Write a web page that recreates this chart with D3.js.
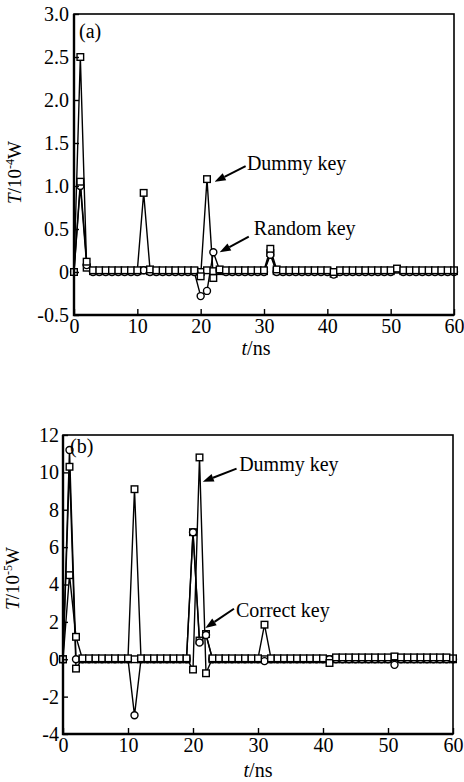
<!DOCTYPE html>
<html>
<head>
<meta charset="utf-8">
<script src="https://cdn.jsdelivr.net/npm/d3@7"></script>
<style>
  body { margin: 0; background: #fff; }
  svg { display: block; font-family: "Liberation Serif", "Times New Roman", serif; }
</style>
</head>
<body>
<svg id="drawing_region"></svg>
<script>
// sample times, one per ns
const timeNs = d3.range(0, 61);

// panel (a): T in 10^-4 W
const dummyKeyA = [0, 1.05, 0.12, 0.02, 0.02, 0.02, 0.02, 0.02, 0.02, 0.02, 0.02,
    0.92, 0.03, 0.02, 0.02, 0.02, 0.02, 0.02, 0.02, 0.02,
    -0.05, 1.08, -0.07, 0.03, 0.02, 0.02, 0.02, 0.02, 0.02, 0.02, 0.02,
    0.27, 0.03, 0.02, 0.02, 0.02, 0.02, 0.02, 0.02, 0.02, 0.02,
    0.0, 0.02, 0.02, 0.02, 0.02, 0.02, 0.02, 0.02, 0.02, 0.02,
    0.04, 0.02, 0.02, 0.02, 0.02, 0.02, 0.02, 0.02, 0.02, 0.02];
const otherKeyA = [0, 2.5, 0.05, 0.01, 0.01, 0.01, 0.01, 0.01, 0.01, 0.01, 0.01,
    0.02, 0.01, 0.01, 0.01, 0.01, 0.01, 0.01, 0.01, 0.01,
    0.0, 0.02, 0.01, 0.01, 0.01, 0.01, 0.01, 0.01, 0.01, 0.01, 0.01,
    0.22, 0.01, 0.01, 0.01, 0.01, 0.01, 0.01, 0.01, 0.01, 0.01,
    -0.02, 0.01, 0.01, 0.01, 0.01, 0.01, 0.01, 0.01, 0.01, 0.01,
    0.03, 0.01, 0.01, 0.01, 0.01, 0.01, 0.01, 0.01, 0.01, 0.01];
const randomKeyA = [0, 1.0, 0.08, 0, 0, 0, 0, 0, 0, 0, 0,
    0.02, 0, 0, 0, 0, 0, 0, 0, 0,
    -0.28, -0.22, 0.23, 0.02, 0, 0, 0, 0, 0, 0, 0,
    0.2, 0, 0, 0, 0, 0, 0, 0, 0, 0,
    -0.03, 0, 0, 0, 0, 0, 0, 0, 0, 0,
    0.03, 0, 0, 0, 0, 0, 0, 0, 0, 0];

// panel (b): T in 10^-5 W
const dummyKeyB = [0, 10.3, -0.5, 0.05, 0.05, 0.05, 0.05, 0.05, 0.05, 0.05, 0.05,
    9.1, 0.05, 0.05, 0.05, 0.05, 0.05, 0.05, 0.05, 0.05,
    -0.55, 10.8, -0.75, 0.05, 0.05, 0.05, 0.05, 0.05, 0.05, 0.05, 0.05,
    1.85, 0.05, 0.05, 0.05, 0.05, 0.05, 0.05, 0.05, 0.05, 0.05,
    -0.2, 0.1, 0.1, 0.1, 0.1, 0.1, 0.1, 0.1, 0.1, 0.1,
    0.15, 0.1, 0.1, 0.1, 0.1, 0.1, 0.1, 0.1, 0.1, 0.05];
const otherKeyB = [0, 4.5, 1.2, 0, 0, 0, 0, 0, 0, 0, 0,
    0, 0, 0, 0, 0, 0, 0, 0, 0,
    6.8, 1.0, 1.35, 0, 0, 0, 0, 0, 0, 0, 0,
    0, 0, 0, 0, 0, 0, 0, 0, 0, 0,
    0, 0, 0, 0, 0, 0, 0, 0, 0, 0,
    0.1, 0, 0, 0, 0, 0, 0, 0, 0, 0];
const correctKeyB = [0, 11.2, 0, 0, 0, 0, 0, 0, 0, 0, 0,
    -3.0, 0, 0, 0, 0, 0, 0, 0, 0,
    6.8, 0.9, 1.3, 0, 0, 0, 0, 0, 0, 0, 0,
    -0.1, 0, 0, 0, 0, 0, 0, 0, 0, 0,
    0, 0, 0, 0, 0, 0, 0, 0, 0, 0,
    -0.3, 0, 0, 0, 0, 0, 0, 0, 0, 0];

// tick labels
const xTicks = [0, 10, 20, 30, 40, 50, 60];
const yTicksA = [-0.5, 0, 0.5, 1.0, 1.5, 2.0, 2.5, 3.0];
const yTickLabelsA = ["-0.5", "0", "0.5", "1.0", "1.5", "2.0", "2.5", "3.0"];
const yTicksB = [-4, -2, 0, 2, 4, 6, 8, 10, 12];
const yTickLabelsB = ["-4", "-2", "0", "2", "4", "6", "8", "10", "12"];

class KeyPanel {
    constructor(config) {
        this.config = config;
        this.init();
    }

    init() {
        let self = this;
        let c = self.config;

        self.chart = d3.select('#drawing_region').append('g')
            .attr('transform', `translate(${c.left}, ${c.top})`);

        self.inner_width = c.width;
        self.inner_height = c.height;

        self.xscale = d3.scaleLinear()
            .domain([0, 60])
            .range([0, self.inner_width]);

        self.yscale = d3.scaleLinear()
            .domain(c.ydomain)
            .range([self.inner_height, 0]);

        self.xaxis = d3.axisBottom(self.xscale)
            .tickValues(xTicks)
            .tickFormat(d3.format('d'))
            .tickSize(-6)
            .tickPadding(c.xpad);

        self.yaxis = d3.axisLeft(self.yscale)
            .tickValues(c.yticks)
            .tickFormat((d, i) => c.ylabels[i])
            .tickSize(-5)
            .tickPadding(c.ypad);
    }

    render() {
        let self = this;
        let c = self.config;

        const line = d3.line()
            .x(d => self.xscale(d.t))
            .y(d => self.yscale(d.v));

        c.series.forEach(s => {
            const pts = timeNs.map((t, i) => ({ t: t, v: s.values[i] }));
            self.chart.append('path')
                .datum(pts)
                .attr('d', line)
                .attr('fill', 'none')
                .attr('stroke', 'black')
                .attr('stroke-width', 1.4);
        });

        c.series.forEach(s => {
            const pts = timeNs.map((t, i) => ({ t: t, v: s.values[i] }));
            if (s.marker == 'square') {
                self.chart.append('g').selectAll('rect')
                    .data(pts)
                    .join('rect')
                    .attr('x', d => self.xscale(d.t) - 3.3)
                    .attr('y', d => self.yscale(d.v) - 3.3)
                    .attr('width', 6.6)
                    .attr('height', 6.6)
                    .attr('fill', 'white')
                    .attr('stroke', 'black')
                    .attr('stroke-width', 1.4);
            } else {
                self.chart.append('g').selectAll('circle')
                    .data(pts)
                    .join('circle')
                    .attr('cx', d => self.xscale(d.t))
                    .attr('cy', d => self.yscale(d.v))
                    .attr('r', 3.5)
                    .attr('fill', 'white')
                    .attr('stroke', 'black')
                    .attr('stroke-width', 1.4);
            }
        });

        // frame
        self.chart.append('rect')
            .attr('width', self.inner_width)
            .attr('height', self.inner_height)
            .attr('fill', 'none')
            .attr('stroke', 'black')
            .attr('stroke-width', 1.6);
        self.chart.append('path')
            .attr('d', `M0,0V${self.inner_height}H${self.inner_width}`)
            .attr('fill', 'none')
            .attr('stroke', 'black')
            .attr('stroke-width', 2.4);

        const xg = self.chart.append('g')
            .attr('transform', `translate(0, ${self.inner_height})`)
            .call(self.xaxis);
        const yg = self.chart.append('g')
            .call(self.yaxis);
        [xg, yg].forEach(g => {
            g.select('.domain').remove();
            g.selectAll('line').attr('stroke-width', 1.4);
            g.selectAll('text')
                .attr('font-family', '"Liberation Serif", serif')
                .attr('font-size', 20)
                .attr('fill', 'black');
        });

        // panel tag
        self.chart.append('text')
            .attr('x', c.tag.dx)
            .attr('y', c.tag.dy)
            .attr('font-size', 20)
            .text(c.tag.text);

        // axis titles
        const yt = self.chart.append('text')
            .attr('transform', `translate(${c.ytitle.dx}, ${self.inner_height / 2 + c.ytitle.dy}) rotate(-90)`)
            .attr('text-anchor', 'middle')
            .attr('font-size', 19);
        yt.append('tspan').attr('font-style', 'italic').text('T');
        yt.append('tspan').text('/10');
        yt.append('tspan').attr('font-size', 12).attr('dy', -7).text(c.ytitle.exp);
        yt.append('tspan').attr('dy', 7).text('W');

        const xt = self.chart.append('text')
            .attr('x', self.inner_width / 2 + c.xtitle.dx)
            .attr('y', self.inner_height + c.xtitle.dy)
            .attr('text-anchor', 'middle')
            .attr('font-size', 20);
        xt.append('tspan').attr('font-style', 'italic').text('t');
        xt.append('tspan').text('/ns');

        // annotations with arrows
        c.notes.forEach(n => {
            const x1 = self.xscale(n.tail[0]), y1 = self.yscale(n.tail[1]);
            const x2 = self.xscale(n.tip[0]), y2 = self.yscale(n.tip[1]);
            const ang = Math.atan2(y2 - y1, x2 - x1);
            const hl = 11, hw = 4;
            const bx = x2 - hl * Math.cos(ang), by = y2 - hl * Math.sin(ang);
            self.chart.append('line')
                .attr('x1', x1).attr('y1', y1)
                .attr('x2', bx).attr('y2', by)
                .attr('stroke', 'black')
                .attr('stroke-width', 2);
            self.chart.append('path')
                .attr('d', `M${x2},${y2}L${bx - hw * Math.sin(ang)},${by + hw * Math.cos(ang)}L${bx + hw * Math.sin(ang)},${by - hw * Math.cos(ang)}Z`)
                .attr('fill', 'black');
            self.chart.append('text')
                .attr('x', self.xscale(n.at[0]))
                .attr('y', self.yscale(n.at[1]))
                .attr('font-size', 20)
                .text(n.text);
        });
    }
}

d3.select('#drawing_region')
    .attr('width', 464)
    .attr('height', 782);

const panelA = new KeyPanel({
    left: 74, top: 14, width: 380, height: 301,
    ydomain: [-0.5, 3.0], yticks: yTicksA, ylabels: yTickLabelsA,
    xpad: 4, ypad: 5,
    series: [
        { values: otherKeyA, marker: 'square' },
        { values: randomKeyA, marker: 'circle' },
        { values: dummyKeyA, marker: 'square' }
    ],
    tag: { text: '(a)', dx: 5, dy: 24 },
    ytitle: { exp: '-4', dx: -53, dy: 8 },
    xtitle: { dx: -8, dy: 40 },
    notes: [
        { text: 'Dummy key', at: [27.3, 1.19], tail: [27.1, 1.23], tip: [22.2, 1.05] },
        { text: 'Random key', at: [28.4, 0.43], tail: [27.6, 0.41], tip: [23.0, 0.23] }
    ]
});
panelA.render();

const panelB = new KeyPanel({
    left: 63, top: 435, width: 390, height: 299,
    ydomain: [-4, 12], yticks: yTicksB, ylabels: yTickLabelsB,
    xpad: 4, ypad: 4,
    series: [
        { values: otherKeyB, marker: 'square' },
        { values: correctKeyB, marker: 'circle' },
        { values: dummyKeyB, marker: 'square' }
    ],
    tag: { text: '(b)', dx: 7, dy: 18 },
    ytitle: { exp: '-5', dx: -44, dy: -6 },
    xtitle: { dx: 0, dy: 43 },
    notes: [
        { text: 'Dummy key', at: [27.1, 10.07], tail: [26.7, 10.2], tip: [21.5, 9.5] },
        { text: 'Correct key', at: [26.6, 2.26], tail: [26.3, 2.7], tip: [21.9, 1.67] }
    ]
});
panelB.render();
</script>
</body>
</html>
